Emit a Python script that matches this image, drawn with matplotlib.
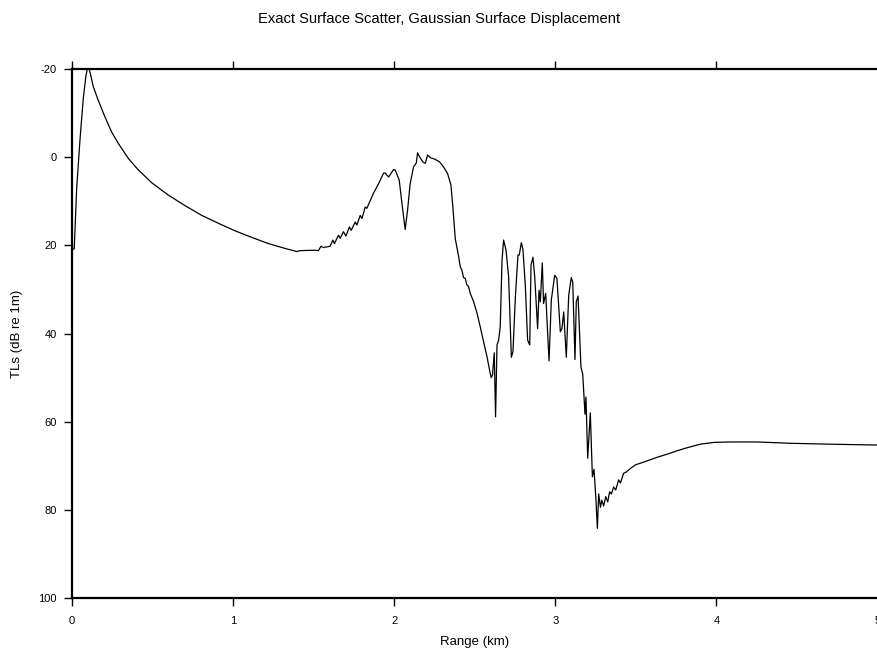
import matplotlib
matplotlib.use("Agg")
import matplotlib.pyplot as plt

plt.rcParams['font.family'] = ['Liberation Sans', 'DejaVu Sans']

title = 'Exact Surface Scatter, Gaussian Surface Displacement'
x_label = 'Range (km)'
y_label = 'TLs (dB re 1m)'

# range (km) and transmission loss (dB) along the track
range_km = [
    0.005, 0.014, 0.029, 0.05, 0.07, 0.087, 0.10, 0.115, 0.132, 0.163,
    0.205, 0.246, 0.288, 0.35, 0.412, 0.495, 0.598, 0.702, 0.805, 0.909,
    1.012, 1.116, 1.219, 1.323, 1.395, 1.416, 1.509, 1.53,
    1.545, 1.56, 1.602, 1.619, 1.629, 1.654, 1.665, 1.685, 1.70, 1.722,
    1.733, 1.758, 1.768, 1.789, 1.80, 1.82, 1.83, 1.861, 1.871, 1.903,
    1.934, 1.944, 1.965, 1.996, 2.006, 2.031, 2.048, 2.068, 2.083, 2.099,
    2.12, 2.137, 2.145, 2.157, 2.178, 2.193, 2.207, 2.224, 2.255, 2.282,
    2.306, 2.331, 2.352, 2.364, 2.379, 2.40, 2.41, 2.42, 2.43, 2.441,
    2.451, 2.461, 2.472, 2.493, 2.514, 2.534, 2.555, 2.576, 2.596, 2.602,
    2.61, 2.621, 2.629, 2.638, 2.648, 2.658, 2.669, 2.679, 2.694, 2.71,
    2.727, 2.737, 2.752, 2.768, 2.776, 2.789, 2.799, 2.814, 2.828, 2.841,
    2.849, 2.861, 2.872, 2.89, 2.899, 2.907, 2.919, 2.927, 2.94, 2.961,
    2.975, 2.996, 3.01, 3.031, 3.041, 3.052, 3.068, 3.083, 3.099, 3.108,
    3.122, 3.13, 3.141, 3.159, 3.17, 3.184, 3.19, 3.201, 3.217, 3.23,
    3.24, 3.251, 3.261, 3.269, 3.28, 3.288, 3.30, 3.313, 3.325, 3.337,
    3.348, 3.362, 3.375, 3.393, 3.404, 3.424, 3.441, 3.466, 3.497, 3.569,
    3.63, 3.70, 3.756, 3.80, 3.839, 3.901, 3.984, 4.087, 4.253, 4.46,
    4.70, 5.0,
]
tl_db = [
    21.0, 20.7, 7.1, -4.2, -13.3, -18.6, -20.8, -18.8, -16.0, -12.9,
    -9.1, -5.7, -3.1, 0.3, 2.9, 5.8, 8.6, 11.0, 13.2, 15.0,
    16.7, 18.2, 19.6, 20.7, 21.4, 21.2, 21.1, 21.2,
    20.2, 20.5, 20.2, 18.8, 19.6, 17.7, 18.4, 16.9, 17.9, 15.8,
    16.6, 14.7, 15.4, 13.2, 13.9, 11.3, 11.6, 9.0, 8.2, 6.0,
    3.6, 3.6, 4.5, 2.8, 2.9, 5.2, 10.5, 16.4, 12.0, 6.0,
    2.2, 1.3, -1.0, -0.1, 1.1, 1.4, -0.5, 0.1, 0.5, 1.1,
    2.2, 3.7, 6.3, 11.3, 18.5, 22.6, 24.9, 25.6, 27.3, 27.5,
    29.0, 29.3, 30.9, 32.8, 35.4, 38.5, 41.9, 45.3, 49.1, 50.0,
    49.4, 44.4, 58.9, 42.6, 41.5, 38.5, 23.4, 18.8, 21.1, 27.1,
    45.4, 44.1, 31.7, 22.2, 22.2, 19.4, 20.9, 29.4, 41.5, 42.6,
    24.5, 22.7, 27.1, 38.9, 30.2, 32.8, 24.0, 33.2, 30.9, 46.2,
    32.4, 26.8, 27.5, 39.6, 38.9, 35.1, 45.4, 31.3, 27.3, 28.3,
    45.9, 32.8, 31.5, 47.6, 49.2, 58.3, 54.4, 68.3, 58.0, 72.5,
    70.8, 77.0, 84.2, 76.4, 79.4, 77.8, 79.1, 77.0, 78.2, 75.9,
    76.4, 74.8, 75.5, 73.2, 73.9, 71.7, 71.4, 70.6, 69.8, 68.9,
    68.1, 67.3, 66.6, 66.1, 65.7, 65.1, 64.7, 64.6, 64.6, 64.9,
    65.1, 65.3,
]

x_ticks = [0, 1, 2, 3, 4, 5]
y_ticks = [-20, 0, 20, 40, 60, 80, 100]

fig = plt.figure(figsize=(8.78, 6.53), dpi=100)
ax = fig.add_axes([0.082, 0.0842, 0.9175, 0.8101])

ax.plot(range_km, tl_db, color='black', linewidth=0.9)

ax.set_xlim(0, 5)
ax.set_ylim(100, -20)
ax.set_xticks(x_ticks)
ax.set_yticks(y_ticks)
ax.set_xticklabels([str(t) for t in x_ticks])
ax.set_yticklabels([str(t) for t in y_ticks])

for side in ['left', 'top', 'bottom']:
    ax.spines[side].set_linewidth(1.6)
ax.spines['right'].set_visible(False)

ax.tick_params(axis='x', which='both', direction='out', top=True, bottom=True,
               length=6, width=1, labelsize=8, pad=7)
ax.tick_params(axis='y', which='both', direction='out', left=True, right=False,
               length=6, width=1, labelsize=8, pad=5)

ax.set_xlabel(x_label, fontsize=9.5, labelpad=7)
ax.set_ylabel(y_label, fontsize=9.5, labelpad=11)
fig.suptitle(title, fontsize=10.6, x=0.5, y=0.981)

fig.savefig('out.png', dpi=100)
plt.close(fig)
